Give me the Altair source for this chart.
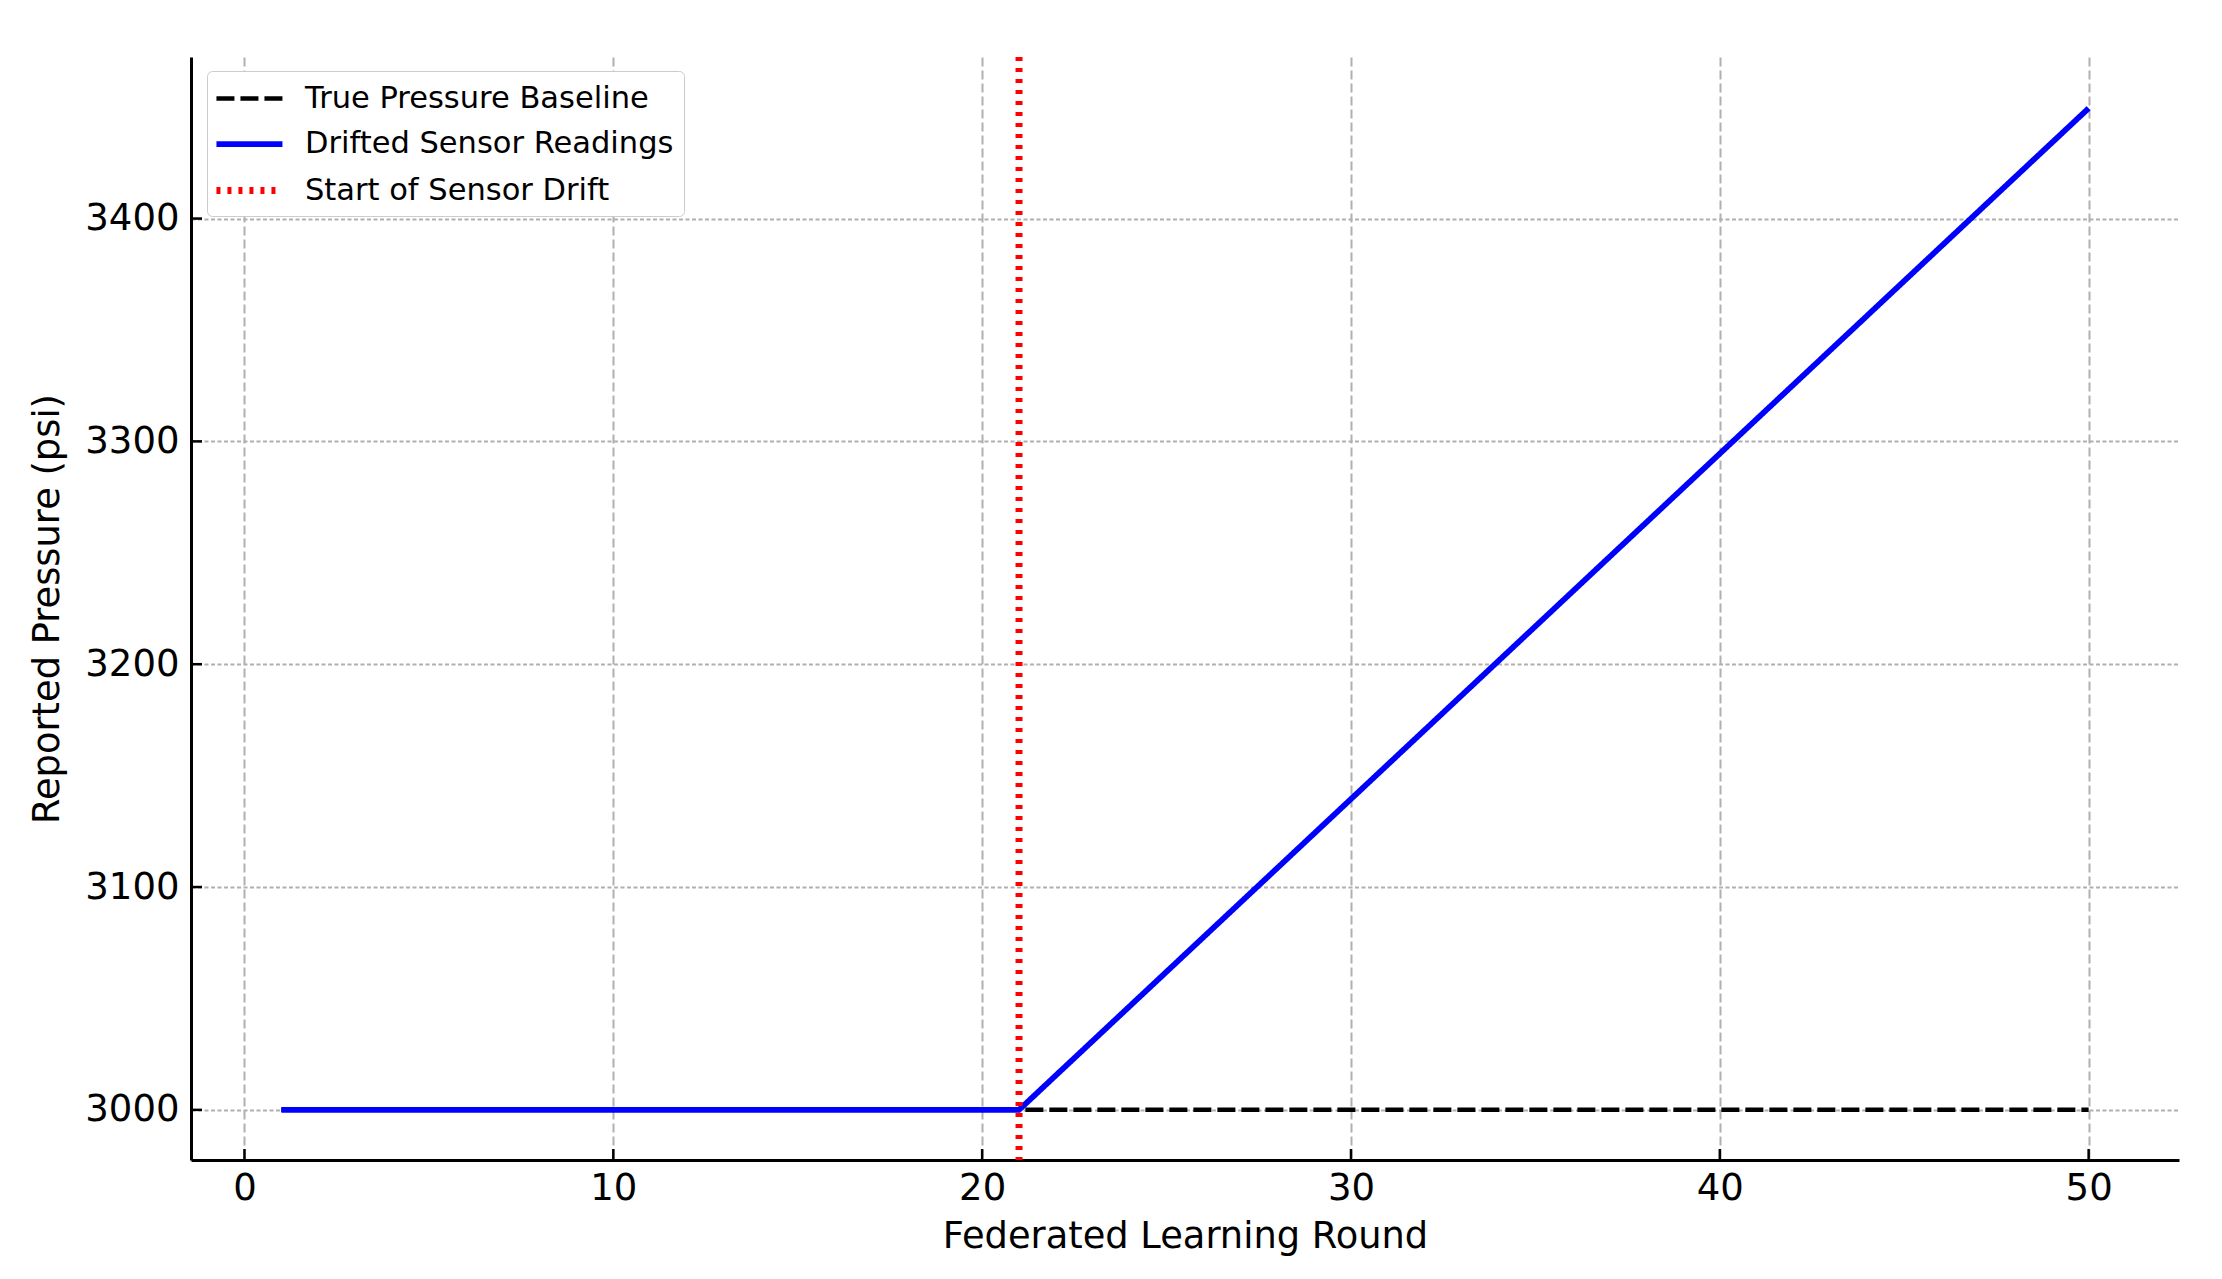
import altair as alt
import pandas as pd

rounds = list(range(1, 51))
baseline = [3000] * 50
drifted = [3000] * 20 + [
    3000, 3015.5, 3031, 3046.5, 3062, 3077.5, 3093, 3108.5, 3124, 3139.5,
    3155, 3170.5, 3186, 3201.5, 3217, 3232.5, 3248, 3263.5, 3279, 3294.5,
    3310, 3325.5, 3341, 3356.5, 3372, 3387.5, 3403, 3418.5, 3434, 3449.5,
]
drift_start = 21
series_names = ["True Pressure Baseline", "Drifted Sensor Readings", "Start of Sensor Drift"]
series_colors = ["#000000", "#0000ff", "#ff0000"]
series_dashes = [[18, 6], [1, 0], [4, 7]]
series_widths = [4.5, 7, 4]
x_ticks = [0, 10, 20, 30, 40, 50]
y_ticks = [3000, 3100, 3200, 3300, 3400]

FONT = "DejaVu Sans"
W, H = 1988, 1103

df_base = pd.DataFrame({"round": rounds, "value": baseline, "series": series_names[0]})
df_drift = pd.DataFrame({"round": rounds, "value": drifted, "series": series_names[1]})
df_rule = pd.DataFrame({"round": [drift_start], "series": [series_names[2]]})
df_xt = pd.DataFrame({"t": x_ticks})
df_yt = pd.DataFrame({"t": y_ticks})

xscale = alt.Scale(domain=[-1.45, 52.45], nice=False, zero=False)
yscale = alt.Scale(domain=[2977.5, 3472.5], nice=False, zero=False)

color = alt.Color("series:N", scale=alt.Scale(domain=series_names, range=series_colors),
                  title=None,
                  legend=alt.Legend(orient="none", legendX=16, legendY=14,
                                    symbolType="M-1.27,0L3.13,0", symbolSize=900,
                                    labelFont=FONT, labelFontSize=30.5, labelColor="#000",
                                    rowPadding=12, padding=10, labelOffset=51,
                                    strokeColor="#cccccc", fillColor="#ffffff",
                                    cornerRadius=5, labelLimit=600))
dash = alt.StrokeDash("series:N", scale=alt.Scale(domain=series_names, range=series_dashes), title=None)
sw = alt.StrokeWidth("series:N", scale=alt.Scale(domain=series_names, range=series_widths), title=None)

xax = alt.Axis(values=x_ticks, title="Federated Learning Round", grid=True,
               gridDash=[9, 4], gridColor="#b0b0b0", gridWidth=2,
               domainColor="#000", domainWidth=3, ticks=False, format="d",
               labelFont=FONT, labelFontSize=37, labelColor="#000", labelPadding=10,
               titleFont=FONT, titleFontSize=36.8, titleFontWeight="normal", titleColor="#000",
               titlePadding=12)
yax = alt.Axis(values=y_ticks, title="Reported Pressure (psi)", grid=True,
               gridDash=[4, 2.5], gridColor="#b0b0b0", gridWidth=2,
               domainColor="#000", domainWidth=3, ticks=False, format="d",
               labelFont=FONT, labelFontSize=37, labelColor="#000", labelPadding=12,
               titleFont=FONT, titleFontSize=36.8, titleFontWeight="normal", titleColor="#000",
               titlePadding=18)

base_line = alt.Chart(df_base).mark_line().encode(
    x=alt.X("round:Q", scale=xscale, axis=xax),
    y=alt.Y("value:Q", scale=yscale, axis=yax),
    color=color, strokeDash=dash, strokeWidth=sw,
)
drift_line = alt.Chart(df_drift).mark_line().encode(
    x=alt.X("round:Q", scale=xscale, axis=xax),
    y=alt.Y("value:Q", scale=yscale, axis=yax),
    color=color, strokeDash=dash, strokeWidth=sw,
)
rule = alt.Chart(df_rule).mark_rule().encode(
    x=alt.X("round:Q", scale=xscale, axis=xax),
    color=color, strokeDash=dash, strokeWidth=sw,
)
xticks = alt.Chart(df_xt).mark_rule(color="#000", strokeWidth=2.5).encode(
    x=alt.X("t:Q", scale=xscale, axis=xax),
    y=alt.value(H - 11), y2=alt.value(H),
)
yticks = alt.Chart(df_yt).mark_rule(color="#000", strokeWidth=2.5).encode(
    y=alt.Y("t:Q", scale=yscale, axis=yax),
    x=alt.value(0), x2=alt.value(11),
)

chart = alt.layer(base_line, drift_line, rule, xticks, yticks).properties(
    width=W, height=H,
    autosize=alt.AutoSizeParams(type="none"),
    padding={"left": 183, "top": 49, "right": 20, "bottom": 110},
).configure(background="#ffffff").configure_view(stroke=None)

chart.save("out.html", embed_options={"renderer": "svg", "actions": False})
